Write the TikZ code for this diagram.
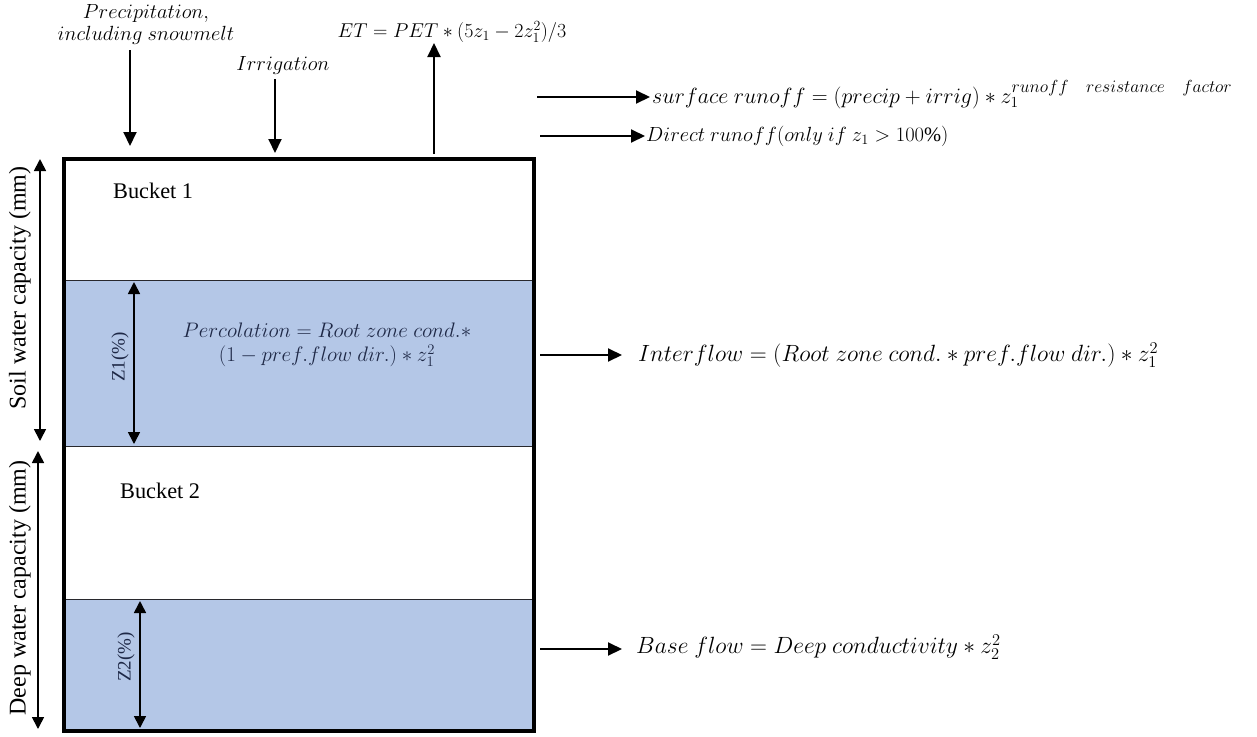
\documentclass[tikz,border=0pt]{standalone}
\usepackage{fix-cm}
\usepackage{fontspec}
\setmainfont{Liberation Serif}
\usetikzlibrary{arrows.meta}
\definecolor{waterblue}{RGB}{180,199,231}
\definecolor{inkblue}{RGB}{30,40,70}
\definecolor{framegray}{RGB}{40,40,45}
\begin{document}
\begin{tikzpicture}[x=1pt,y=-1pt,
  tip/.style={-{Triangle[length=14pt,width=13pt]}},
  flow/.style={tip,line width=2pt},
  twoway/.style={{Triangle[length=12pt,width=12pt]}-{Triangle[length=12pt,width=12pt]},line width=1.7pt},
  layer/.style={draw=framegray,line width=1.4pt,inner sep=0pt,anchor=north west,minimum width=469pt},
  txt/.style={inner sep=0pt,font=\fontsize{22.3}{26}\selectfont},
  eq/.style={inner sep=0pt,anchor=west,font=\fontsize{23.5}{26}\selectfont},
  sidelbl/.style={inner sep=0pt,rotate=90,font=\fontsize{24}{26}\selectfont}
]
\useasboundingbox (0,0) rectangle (1257,736);
% layers
\node[layer,fill=white,minimum height=121pt] (b1) at (64,159) {};
\node[layer,fill=waterblue,minimum height=166pt] (z1) at (64,280) {};
\node[layer,fill=white,minimum height=153pt] (b2) at (64,446) {};
\node[layer,fill=waterblue,minimum height=131pt] (z2) at (64,599) {};
\draw[line width=4pt] (b1.north west) rectangle (z2.south east);

% labels inside
\node[txt,anchor=west] (lb1) at (113,191) {Bucket 1};
\node[txt,anchor=west] (lb2) at (120,491) {Bucket 2};
\node[eq,anchor=center,text=inkblue,align=center,font=\fontsize{21}{24}\selectfont] (perc) at (327,345)
  {$Percolation = Root\ zone\ cond.*$\\$(1 - pref.flow\ dir.) * z_1^2$};

% Z1 / Z2
\coordinate (z1t) at (134,282);
\coordinate (z1b) at (134,444);
\draw[twoway] (z1t) -- (z1b);
\node[sidelbl,text=inkblue,font=\fontsize{19}{22}\selectfont] (z1l) at (120,357) {Z1(\%)};
\coordinate (z2t) at (140,601);
\coordinate (z2b) at (140,728);
\draw[twoway] (z2t) -- (z2b);
\node[sidelbl,text=inkblue,font=\fontsize{19}{22}\selectfont] (z2l) at (126,657) {Z2(\%)};

% side capacity arrows
\coordinate (st) at (40,159);
\coordinate (sb) at (40,441);
\draw[twoway] (st) -- (sb);
\node[sidelbl] (sl) at (20,288) {Soil water capacity (mm)};
\coordinate (dt) at (38,451);
\coordinate (db) at (38,729);
\draw[twoway] (dt) -- (db);
\node[sidelbl] (dl) at (20,588) {Deep water capacity (mm)};

% top inputs
\node[txt,font=\fontsize{20.5}{22}\selectfont,align=center] (prec) at (146,24) {$Precipitation,$\\$including\ snowmelt$};
\coordinate (ps) at (130,50);
\coordinate (pe) at (130,146);
\draw[flow] (ps) -- (pe);
\node[txt,font=\fontsize{20.5}{22}\selectfont] (irr) at (283,65) {$Irrigation$};
\coordinate (is) at (275,79);
\coordinate (ie) at (275,153);
\draw[flow] (is) -- (ie);
\node[eq,anchor=center,font=\fontsize{20}{22}\selectfont] (et) at (452,32) {$ET = PET * (5z_1 - 2z_1^2)/3$};
\coordinate (es) at (434,154);
\coordinate (ee) at (434,43);
\draw[flow] (es) -- (ee);

% outflows
\coordinate (sr) at (537,97);
\node[eq,font=\fontsize{22}{26}\selectfont] (srt) at (652,95) {$surface\ runoff = (precip + irrig) * z_1^{\mbox{\fontsize{17.5}{18}\selectfont$runoff\quad resistance\quad factor$}}$};
\draw[flow] (sr) -- ([xshift=-2pt]srt.west |- sr);
\coordinate (dr) at (540,136);
\node[eq,font=\fontsize{20.5}{22}\selectfont] (drt) at (646,136) {$Direct\ runoff (only\ if\ z_1 > 100\%)$};
\draw[flow] (dr) -- ([xshift=-1pt]drt.west |- dr);
\coordinate (ifs) at (540,355);
\node[eq] (ift) at (638,355) {$Interflow = (Root\ zone\ cond.* pref.flow\ dir.) * z_1^2$};
\draw[flow] (ifs) -- ([xshift=-16pt]ift.west |- ifs);
\coordinate (bfs) at (540,649);
\node[eq] (bft) at (636,647) {$Base\ flow = Deep\ conductivity * z_2^2$};
\draw[flow] (bfs) -- ([xshift=-14pt]bft.west |- bfs);
\end{tikzpicture}
\end{document}
